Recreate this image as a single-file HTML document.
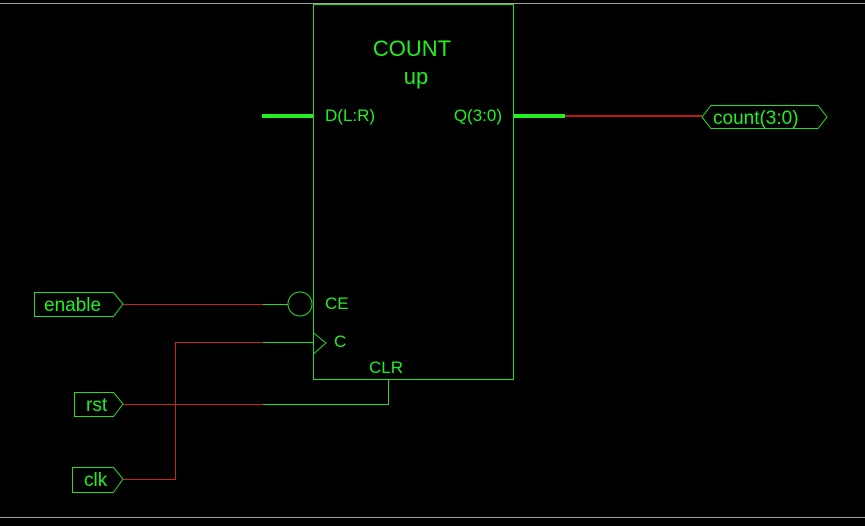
<!DOCTYPE html>
<html><head><style>html,body{margin:0;padding:0;background:#000;width:865px;height:526px;overflow:hidden}</style></head>
<body>
<svg width="865" height="526" xmlns="http://www.w3.org/2000/svg" style="display:block">
<rect width="865" height="526" fill="#000"/>
<line x1="0" y1="3.5" x2="865" y2="3.5" stroke="#a0a0a0" stroke-width="1"/>
<line x1="0" y1="517.5" x2="865" y2="517.5" stroke="#a0a0a0" stroke-width="1"/>
<g fill="none" stroke="#22dd22" stroke-width="1">
<rect x="313.5" y="4.5" width="200" height="375"/>
<circle cx="300" cy="304" r="12"/>
<polyline points="313.5,333 326,343 313.5,354"/>
<polygon points="34.5,292.5 113.5,292.5 123,304 113.5,316.5 34.5,316.5"/>
<polygon points="74.5,392.5 113.5,392.5 123,404 113.5,416.5 74.5,416.5"/>
<polygon points="72.5,467.5 113.5,467.5 123,479 113.5,492.5 72.5,492.5"/>
<polygon points="711,105.5 818,105.5 827,117 818,128.5 711,128.5 702,117"/>
<line x1="263" y1="304.5" x2="288" y2="304.5"/>
<line x1="263" y1="342.5" x2="313" y2="342.5"/>
<polyline points="263,404.5 388.5,404.5 388.5,380"/>
</g>
<g stroke="#cc2222" stroke-width="1" fill="none">
<line x1="123" y1="304.5" x2="263" y2="304.5"/>
<line x1="123" y1="404.5" x2="263" y2="404.5"/>
<polyline points="123,479.5 175.5,479.5 175.5,342.5 263,342.5"/>
</g>
<line x1="262" y1="116" x2="313" y2="116" stroke="#22ee22" stroke-width="4"/>
<line x1="514" y1="116" x2="565" y2="116" stroke="#22ee22" stroke-width="4"/>
<line x1="565" y1="116" x2="702" y2="116" stroke="#bb1a1a" stroke-width="2"/>
<g fill="#22ee22" font-family="Liberation Sans, sans-serif">
<text x="412" y="56" font-size="22" text-anchor="middle">COUNT</text>
<text x="416" y="84" font-size="22" text-anchor="middle">up</text>
<text x="325" y="121" font-size="17">D(L:R)</text>
<text x="502" y="121" font-size="17" text-anchor="end">Q(3:0)</text>
<text x="325" y="309" font-size="17">CE</text>
<text x="334" y="347" font-size="17">C</text>
<text x="369" y="373" font-size="17">CLR</text>
<text x="44" y="311" font-size="19">enable</text>
<text x="86" y="411" font-size="19">rst</text>
<text x="84" y="486" font-size="19">clk</text>
<text x="713" y="124" font-size="19">count(3:0)</text>
</g>
</svg>
</body></html>
